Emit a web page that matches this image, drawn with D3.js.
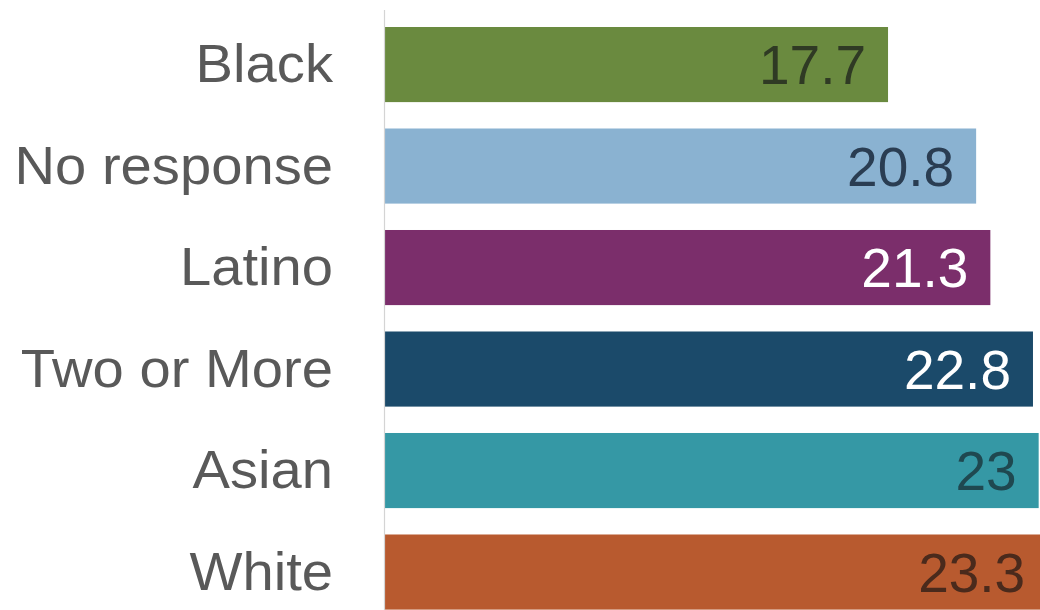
<!DOCTYPE html>
<html>
<head>
<meta charset="utf-8">
<script src="https://cdn.jsdelivr.net/npm/d3@7"></script>
<style>
  html, body { margin: 0; padding: 0; background: #fff; overflow: hidden; }
  svg { display: block; font-family: "Liberation Sans", Arial, Helvetica, sans-serif; }
</style>
</head>
<body>
<svg id="chart" width="1040" height="610"></svg>
<script>
const categories = ["Black", "No response", "Latino", "Two or More", "Asian", "White"];
const values = [17.7, 20.8, 21.3, 22.8, 23, 23.3];
const barColors = ["#6a8a3f", "#8ab2d1", "#7b2e6b", "#1b4a6a", "#3598a5", "#b85a2f"];
const labelColors = ["#2f3a24", "#2a3d52", "#ffffff", "#ffffff", "#1f4850", "#4a2a1c"];

const svg = d3.select("#chart");
const W = 1040, H = 610;
const x0 = 385;

const x = d3.scaleLinear().domain([0, 25]).range([x0, x0 + 28.42 * 25]);
const y = d3.scaleBand().domain(categories).range([0, 636.6]).paddingInner(0.26).paddingOuter(0.266);

const data = categories.map((c, i) => ({ c, v: values[i], col: barColors[i], lc: labelColors[i] }));

svg.selectAll("rect.bar").data(data).enter().append("rect")
  .attr("class", "bar")
  .attr("x", x(0))
  .attr("y", d => y(d.c))
  .attr("width", d => x(d.v) - x(0))
  .attr("height", y.bandwidth())
  .attr("fill", d => d.col);

// axis line
svg.append("line")
  .attr("x1", x0 - 0.5).attr("x2", x0 - 0.5)
  .attr("y1", 10).attr("y2", H)
  .attr("stroke", "#d4d4d4").attr("stroke-width", 1.2);

// category labels
const yAxis = d3.axisLeft(y).tickSize(0).tickPadding(0);
const gy = svg.append("g").attr("transform", `translate(333,0) scale(1.06,1)`).call(yAxis);
gy.select(".domain").remove();
gy.selectAll("text")
  .attr("font-size", 53)
  .attr("fill", "#595959")
  .attr("font-family", "Liberation Sans, Arial, sans-serif")
  .attr("dy", "0.33em");

// value labels
svg.selectAll("text.val").data(data).enter().append("text")
  .attr("class", "val")
  .attr("x", d => x(d.v) - 22)
  .attr("y", d => y(d.c) + y.bandwidth() / 2)
  .attr("dy", "0.36em")
  .attr("text-anchor", "end")
  .attr("font-size", 55)
  .attr("fill", d => d.lc)
  .text(d => d.v);
</script>
</body>
</html>
